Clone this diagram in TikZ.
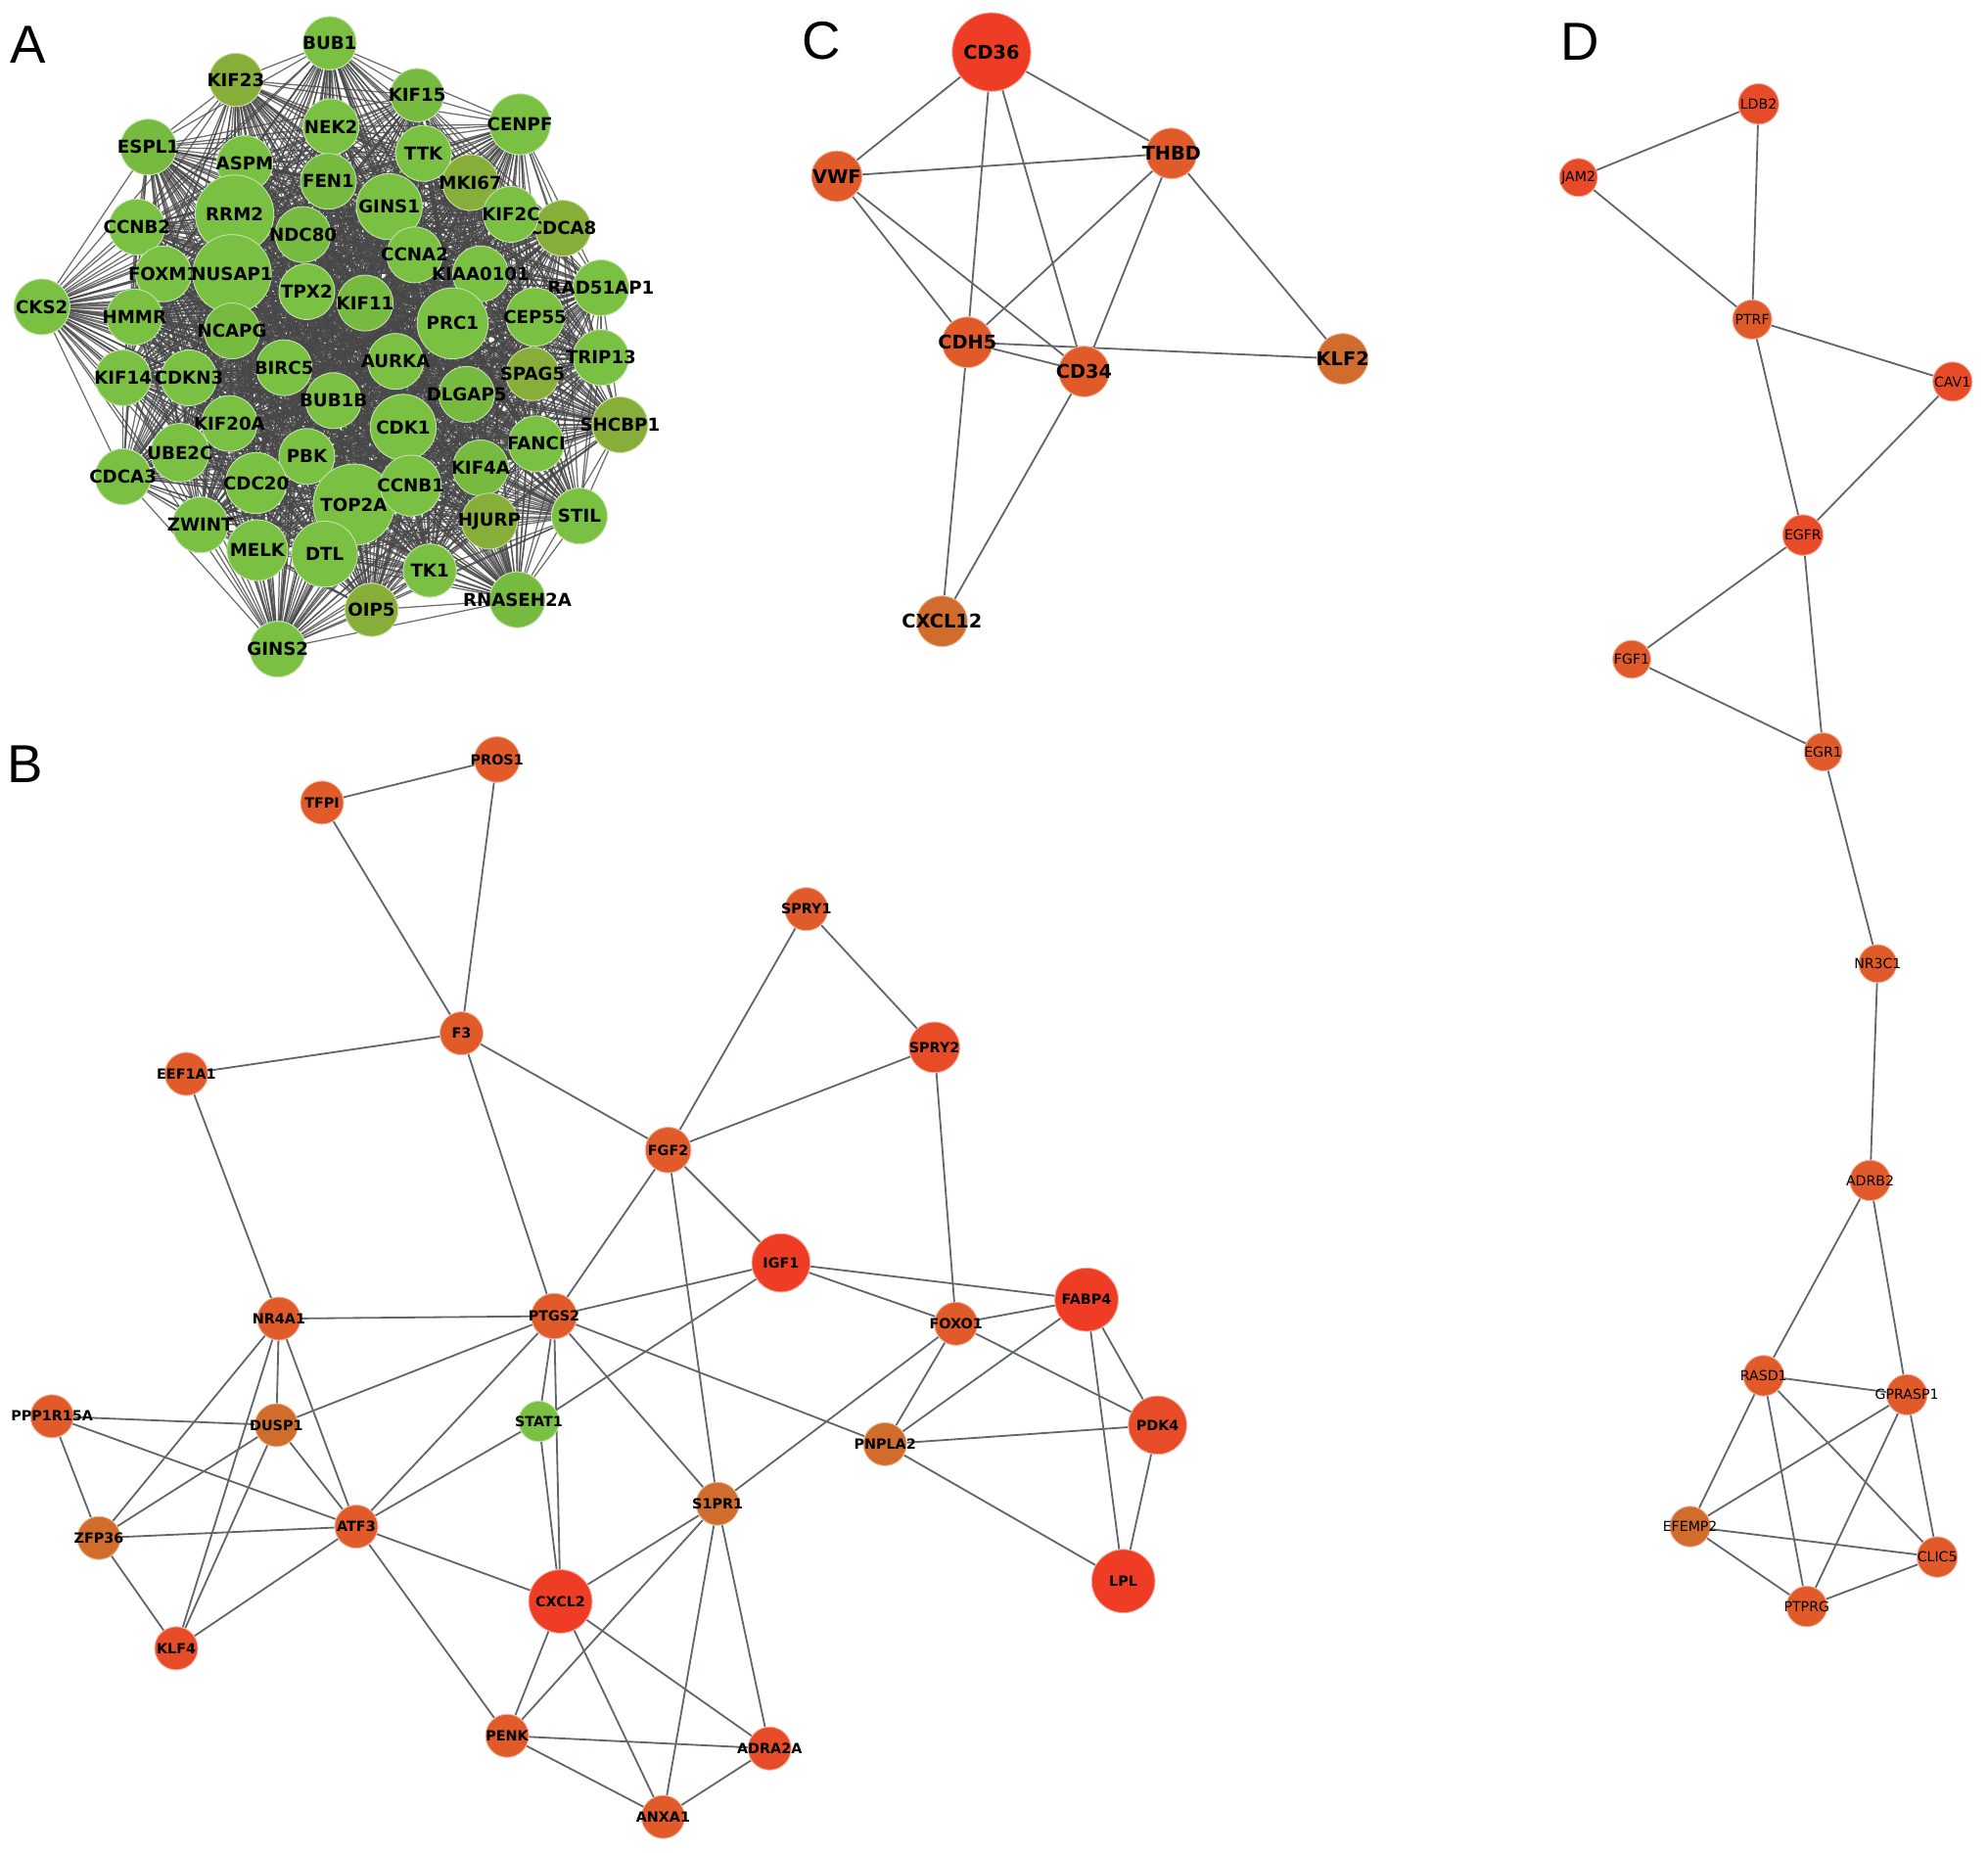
\documentclass[tikz,border=0pt]{standalone}
\usepackage{fontspec}
\setsansfont{DejaVu Sans}
\newfontfamily\lettfont{Liberation Sans}
\usepackage{tikz}
\usetikzlibrary{backgrounds}
\definecolor{leafg}  {HTML}{7AC143}
\definecolor{mossg}  {HTML}{76BA40}
\definecolor{oliveg} {HTML}{86AE38}
\definecolor{scarlet}{HTML}{EE3D24}
\definecolor{vermil} {HTML}{E74B27}
\definecolor{rust}   {HTML}{E05A2A}
\definecolor{copper} {HTML}{D06C2C}
\definecolor{slate}  {HTML}{5F676D}

\begin{document}
\begin{tikzpicture}[x=0.02cm,y=-0.02cm,
  gn/.style={circle, fill=#1, draw=white!55!#1, line width=0.4pt, inner sep=0pt, text=black},
  sz/.style={minimum size=#1*0.02cm},
  aedge/.style={draw=black!72, line width=0.55pt, opacity=0.8},
  nedge/.style={draw=slate, line width=0.8pt},
  panel/.style={font=\lettfont\fontsize{24}{24}\selectfont}]
 \useasboundingbox (0,0) rectangle (1568,1461);

 % A
 \node[panel] (labA) at (22,35) {A};
 \begin{scope}[font=\sffamily\bfseries\fontsize{8}{8}\selectfont]
  \foreach \nm/\x/\y/\d/\c [count=\i] in {
    BUB1/260/34/42/leafg, KIF23/186/63/42/oliveg, KIF15/329/75/42/mossg,
    CENPF/410/98/48/leafg, ESPL1/117/116/44/mossg, NEK2/261/100/44/leafg,
    ASPM/193/129/44/leafg, TTK/334/121/44/leafg, MKI67/371/144/44/oliveg,
    FEN1/259/143/44/mossg, RRM2/185/169/62/leafg, GINS1/307/163/52/leafg,
    CDCA8/444/180/44/oliveg, KIF2C/403/169/44/leafg, CCNB2/108/179/44/leafg,
    NDC80/239/185/44/mossg, CCNA2/327/201/44/leafg, KIAA0101/379/216/44/leafg,
    RAD51AP1/474/227/44/leafg, FOXM1/129/216/44/leafg, NUSAP1/183/216/62/leafg,
    TPX2/242/230/44/leafg, KIF11/288/239/44/mossg, PRC1/357/255/56/leafg,
    CEP55/422/250/46/leafg, CKS2/33/242/44/leafg, HMMR/106/250/44/leafg,
    NCAPG/183/261/44/mossg, TRIP13/474/282/44/leafg, AURKA/312/285/44/leafg,
    BIRC5/224/290/44/leafg, SPAG5/420/295/42/oliveg, KIF14/97/298/44/leafg,
    CDKN3/149/298/44/leafg, DLGAP5/368/311/44/mossg, BUB1B/263/316/44/leafg,
    SHCBP1/489/335/44/oliveg, KIF20A/181/334/44/leafg, CDK1/318/337/52/leafg,
    FANCI/423/350/44/leafg, UBE2C/142/357/46/leafg, PBK/242/360/44/leafg,
    CDCA3/97/376/44/leafg, CDC20/202/381/48/leafg, KIF4A/379/369/44/mossg,
    TOP2A/279/398/64/leafg, CCNB1/324/383/48/leafg, ZWINT/158/414/44/leafg,
    HJURP/386/411/44/oliveg, STIL/457/407/44/leafg, MELK/203/434/48/leafg,
    DTL/256/437/52/leafg, TK1/339/450/42/leafg, RNASEH2A/408/473/44/mossg,
    OIP5/293/481/42/oliveg, GINS2/219/512/44/leafg}
   \node[gn=\c, sz=\d] (a\i) at (\x,\y) {\makebox[0pt]{\nm}};
  \begin{scope}[on background layer]
   \foreach \i in {2,...,56}{
    \pgfmathtruncatemacro{\k}{\i-1}
    \foreach \j in {1,...,\k} \draw[aedge] (a\i) -- (a\j);
   }
  \end{scope}
 \end{scope}

 % B
 \node[panel] (labB) at (20,603) {B};
 \begin{scope}[font=\sffamily\bfseries\fontsize{6.3}{6.3}\selectfont]
  \foreach \nm/\x/\y/\d/\c in {
    PROS1/392/599/36/rust, TFPI/254/633/34/rust, SPRY1/636/717/34/rust,
    F3/364/815/34/rust, SPRY2/737/826/40/vermil, EEF1A1/147/847/34/rust,
    FGF2/527/907/36/rust, IGF1/616/996/46/scarlet, FABP4/857/1025/50/scarlet,
    NR4A1/220/1040/34/rust, PTGS2/437/1038/36/rust, FOXO1/754/1044/34/rust,
    PPP1R15A/41/1117/34/rust, DUSP1/218/1124/34/copper, STAT1/425/1121/32/leafg,
    PNPLA2/698/1139/34/copper, PDK4/913/1124/46/vermil, ZFP36/78/1213/34/copper,
    ATF3/281/1204/34/rust, S1PR1/566/1186/34/copper, LPL/886/1247/50/scarlet,
    CXCL2/442/1263/50/scarlet, KLF4/139/1300/34/vermil, PENK/400/1369/34/rust,
    ADRA2A/607/1379/34/vermil, ANXA1/523/1433/34/rust}
   \node[gn=\c, sz=\d] (\nm) at (\x,\y) {\makebox[0pt]{\nm}};
  \begin{scope}[on background layer]
   \foreach \u/\v in {TFPI/PROS1, TFPI/F3, PROS1/F3, F3/EEF1A1, F3/FGF2, F3/PTGS2,
     SPRY1/FGF2, SPRY1/SPRY2, SPRY2/FGF2, SPRY2/FOXO1, FGF2/IGF1, FGF2/PTGS2,
     FGF2/S1PR1, EEF1A1/NR4A1, IGF1/PTGS2, IGF1/FOXO1, IGF1/FABP4, IGF1/STAT1,
     FABP4/FOXO1, FABP4/PNPLA2, FABP4/PDK4, FABP4/LPL, FOXO1/PDK4, FOXO1/PNPLA2,
     FOXO1/S1PR1, PTGS2/NR4A1, PTGS2/DUSP1, PTGS2/STAT1, PTGS2/ATF3, PTGS2/CXCL2,
     PTGS2/S1PR1, PTGS2/PNPLA2, PNPLA2/PDK4, PNPLA2/LPL, PDK4/LPL, NR4A1/DUSP1,
     NR4A1/ATF3, NR4A1/ZFP36, NR4A1/KLF4, PPP1R15A/DUSP1, PPP1R15A/ZFP36,
     PPP1R15A/ATF3, DUSP1/ZFP36, DUSP1/ATF3, DUSP1/KLF4, ZFP36/ATF3, ZFP36/KLF4,
     KLF4/ATF3, ATF3/STAT1, ATF3/CXCL2, ATF3/PENK, STAT1/CXCL2, CXCL2/S1PR1,
     CXCL2/PENK, CXCL2/ANXA1, CXCL2/ADRA2A, S1PR1/PENK, S1PR1/ANXA1, S1PR1/ADRA2A,
     PENK/ADRA2A, PENK/ANXA1, ANXA1/ADRA2A}
    \draw[nedge] (\u) -- (\v);
  \end{scope}
 \end{scope}

 % C
 \node[panel] (labC) at (648,32) {C};
 \begin{scope}[font=\sffamily\bfseries\fontsize{8.5}{8.5}\selectfont]
  \foreach \nm/\x/\y/\d/\c in {
    CD36/782/41/62/scarlet, VWF/660/139/40/rust, THBD/924/121/40/rust,
    CDH5/763/270/40/rust, CD34/855/293/40/rust, KLF2/1059/283/40/copper,
    CXCL12/743/490/40/copper}
   \node[gn=\c, sz=\d] (\nm) at (\x,\y) {\makebox[0pt]{\nm}};
  \begin{scope}[on background layer]
   \foreach \u/\v in {CD36/VWF, CD36/THBD, CD36/CDH5, CD36/CD34, VWF/THBD,
     VWF/CDH5, VWF/CD34, THBD/CDH5, THBD/CD34, THBD/KLF2, CDH5/CD34, CDH5/KLF2,
     CDH5/CXCL12, CD34/CXCL12}
    \draw[nedge] (\u) -- (\v);
  \end{scope}
 \end{scope}

 % D
 \node[panel] (labD) at (1246,33) {D};
 \begin{scope}[font=\sffamily\fontsize{6.2}{6.2}\selectfont]
  \foreach \nm/\x/\y/\d/\c in {
    LDB2/1387/82/32/vermil, JAM2/1245/140/30/vermil, PTRF/1382/252/31/rust,
    CAV1/1540/301/31/vermil, EGFR/1422/422/32/vermil, FGF1/1287/520/30/rust,
    EGR1/1438/593/30/rust, NR3C1/1481/760/30/rust, ADRB2/1475/931/32/rust,
    RASD1/1391/1085/32/rust, GPRASP1/1504/1100/32/rust, EFEMP2/1333/1204/32/copper,
    CLIC5/1528/1228/32/rust, PTPRG/1425/1267/32/rust}
   \node[gn=\c, sz=\d] (\nm) at (\x,\y) {\makebox[0pt]{\nm}};
  \begin{scope}[on background layer]
   \foreach \u/\v in {LDB2/JAM2, LDB2/PTRF, JAM2/PTRF, PTRF/CAV1, PTRF/EGFR,
     CAV1/EGFR, EGFR/FGF1, EGFR/EGR1, FGF1/EGR1, EGR1/NR3C1, NR3C1/ADRB2,
     ADRB2/RASD1, ADRB2/GPRASP1, RASD1/GPRASP1, RASD1/EFEMP2, RASD1/PTPRG,
     RASD1/CLIC5, GPRASP1/EFEMP2, GPRASP1/PTPRG, GPRASP1/CLIC5, EFEMP2/CLIC5,
     EFEMP2/PTPRG, PTPRG/CLIC5}
    \draw[nedge] (\u) -- (\v);
  \end{scope}
 \end{scope}
\end{tikzpicture}
\end{document}
